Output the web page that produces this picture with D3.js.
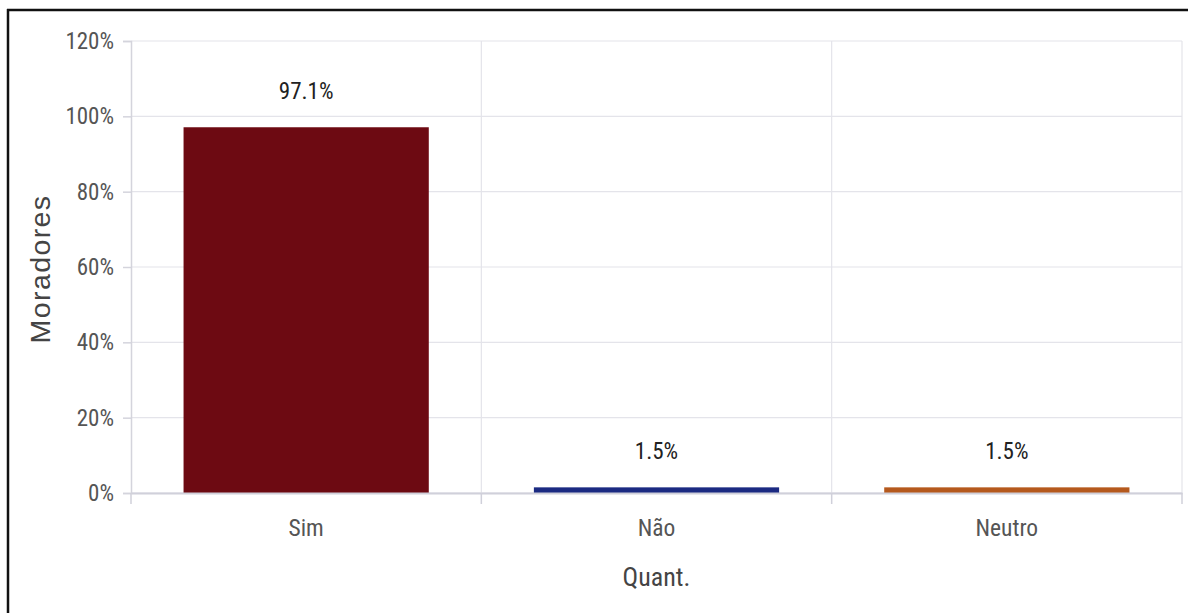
<!DOCTYPE html>
<html><head><meta charset="utf-8">
<script src="https://cdn.jsdelivr.net/npm/d3@7/dist/d3.min.js"></script>
<style>
html,body{margin:0;padding:0;background:#fff;}
svg{display:block;}
</style></head>
<body>
<script>
const categories = ["Sim", "Não", "Neutro"];
const values = [97.1, 1.5, 1.5];
const valueLabels = ["97.1%", "1.5%", "1.5%"];
const barColors = ["#6d0a12", "#1b2a82", "#b5591d"];
const yTicks = [0, 20, 40, 60, 80, 100, 120];
const yTitle = "Moradores";
const xTitle = "Quant.";

const W = 1188, H = 613;
const m = {left: 131, right: 6, top: 41, bottom: 120};
const svg = d3.select("body").append("svg").attr("width", W).attr("height", H);

const condensed = "'Roboto Condensed','Liberation Sans Narrow','Arial Narrow',Roboto,sans-serif";

const x = d3.scaleBand().domain(categories).range([m.left, W - m.right]).paddingInner(0.3).paddingOuter(0.15);
const xOuter = d3.scaleBand().domain(categories).range([m.left, W - m.right]);
const y = d3.scaleLinear().domain([0, 120]).range([H - m.bottom, m.top]);

// frame
svg.append("line").attr("x1", 7).attr("x2", W).attr("y1", 10).attr("y2", 10).attr("stroke", "#111").attr("stroke-width", 2.5);
svg.append("line").attr("x1", 8).attr("x2", 8).attr("y1", 9).attr("y2", H).attr("stroke", "#111").attr("stroke-width", 2.5);

// horizontal grid
svg.append("g").selectAll("line").data(yTicks).join("line")
  .attr("x1", m.left).attr("x2", W - m.right)
  .attr("y1", d => y(d)).attr("y2", d => y(d))
  .attr("stroke", "#e4e4ea").attr("stroke-width", 1.2);

// vertical grid at band boundaries
const bounds = categories.map(c => xOuter(c)).concat([xOuter(categories[categories.length - 1]) + xOuter.bandwidth()]);
svg.append("g").selectAll("line").data(bounds.slice(1)).join("line")
  .attr("x1", d => d).attr("x2", d => d)
  .attr("y1", m.top).attr("y2", y(0))
  .attr("stroke", "#e4e4ea").attr("stroke-width", 1.2);

// bars
svg.append("g").selectAll("rect").data(values).join("rect")
  .attr("x", (d, i) => x(categories[i]))
  .attr("y", d => y(d))
  .attr("width", x.bandwidth())
  .attr("height", d => y(0) - y(d))
  .attr("fill", (d, i) => barColors[i]);

// value labels
svg.append("g").selectAll("text").data(values).join("text")
  .attr("x", (d, i) => x(categories[i]) + x.bandwidth() / 2)
  .attr("y", d => y(d) - 28.5)
  .attr("text-anchor", "middle")
  .attr("font-family", condensed).attr("font-size", 23)
  .attr("fill", "#222")
  .text((d, i) => valueLabels[i]);

// y axis
const yAxis = d3.axisLeft(y).tickValues(yTicks).tickFormat(d => d + "%").tickSize(8).tickPadding(9);
const gy = svg.append("g").attr("transform", `translate(${m.left},0)`).call(yAxis);
gy.select(".domain").attr("stroke", "#d4d4dc").attr("stroke-width", 1.5);
gy.selectAll(".tick line").attr("stroke", "#d4d4dc").attr("stroke-width", 1.5);
gy.selectAll(".tick text").attr("font-family", condensed).attr("font-size", 23).attr("fill", "#555");

// x axis
const gx = svg.append("g").attr("transform", `translate(0,${y(0)})`)
  .call(d3.axisBottom(x).tickSize(0).tickPadding(26));
gx.select(".domain").attr("stroke", "#d0d0da").attr("stroke-width", 2);
gx.selectAll(".tick text").attr("font-family", condensed).attr("font-size", 23.5).attr("fill", "#555");
gx.append("g").selectAll("line").data(bounds).join("line")
  .attr("x1", d => d).attr("x2", d => d).attr("y1", 0).attr("y2", 11)
  .attr("stroke", "#d0d0da").attr("stroke-width", 1.5);

// titles
svg.append("text")
  .attr("transform", `translate(50,${(y(0) + y(120)) / 2 + 2}) rotate(-90)`)
  .attr("text-anchor", "middle")
  .attr("font-family", "'Liberation Sans',Arial,sans-serif").attr("font-size", 28.5)
  .attr("letter-spacing", 1.4)
  .attr("fill", "#444").text(yTitle);

svg.append("text")
  .attr("x", (m.left + W - m.right) / 2).attr("y", 586)
  .attr("text-anchor", "middle")
  .attr("font-family", condensed).attr("font-size", 26)
  .attr("fill", "#444").text(xTitle);
</script>
</body></html>
